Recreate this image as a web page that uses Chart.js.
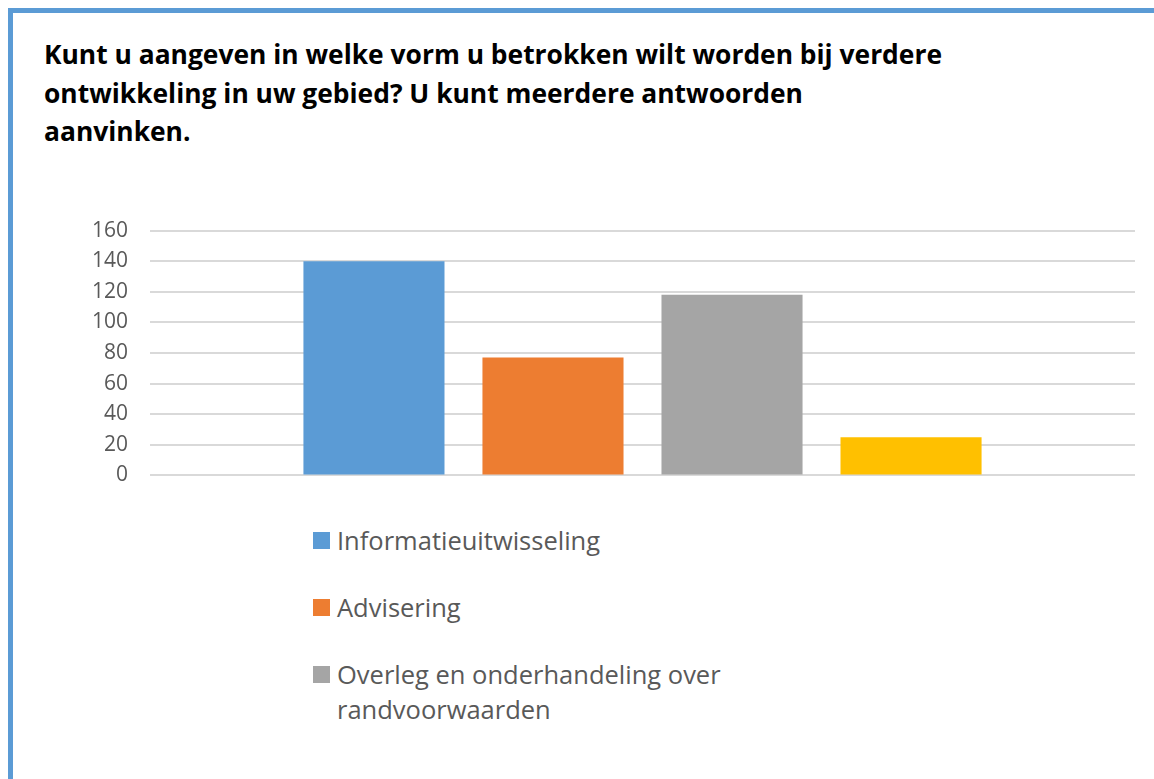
<!DOCTYPE html>
<html>
<head>
<meta charset="utf-8">
<script src="https://cdn.jsdelivr.net/npm/chart.js@4"></script>
<style>
  html, body { margin: 0; padding: 0; }
  body { width: 1154px; height: 779px; overflow: hidden; position: relative; background: #fff; font-family: 'Open Sans', sans-serif; }
  #frame { position: absolute; left: 8px; top: 8px; width: 1200px; height: 900px; border-left: 5px solid #5b9bd5; border-top: 5px solid #5b9bd5; }
  #title { position: absolute; left: 44px; top: 35px; font-weight: bold; font-size: 26.4px; line-height: 38.5px; color: #000; white-space: nowrap; }
  #chart-box { position: absolute; left: 60px; top: 196px; width: 1085px; height: 314px; }
  #legend { position: absolute; left: 313px; top: 523px; height: 222px; overflow: hidden; color: #595959; font-size: 25.5px; line-height: 35px; }
  .legend-item { display: flex; align-items: flex-start; margin-bottom: 32px; }
  .legend-swatch { width: 17px; height: 17px; margin-top: 9px; margin-right: 7px; flex: none; }
</style>
</head>
<body>
<div id="frame"></div>
<div id="title">Kunt u aangeven in welke vorm u betrokken wilt worden bij verdere<br>ontwikkeling in uw gebied? U kunt meerdere antwoorden<br>aanvinken.</div>
<div id="chart-box"><canvas id="vorm-chart"></canvas></div>
<div id="legend"></div>
<script>
const categories = [''];
const seriesNames = ['Informatieuitwisseling', 'Advisering', 'Overleg en onderhandeling over randvoorwaarden', 'Meebeslissen'];
const seriesValues = [140, 77, 118, 25];
const seriesColors = ['#5b9bd5', '#ed7d31', '#a5a5a5', '#ffc000'];
const yTicks = [0, 20, 40, 60, 80, 100, 120, 140, 160];

const datasets = seriesNames.map((name, i) => ({
    label: name,
    data: [seriesValues[i]],
    backgroundColor: seriesColors[i],
    borderWidth: 0,
    categoryPercentage: 0.727,
    barPercentage: 0.788
}));

const ctx = document.getElementById('vorm-chart');
new Chart(ctx, {
    type: 'bar',
    data: { labels: categories, datasets: datasets },
    options: {
        responsive: true,
        maintainAspectRatio: false,
        animation: false,
        layout: { padding: { top: 15, bottom: 15, right: 10, left: 0 } },
        plugins: {
            legend: { display: false },
            tooltip: { enabled: false }
        },
        scales: {
            x: { display: false },
            y: {
                min: yTicks[0],
                max: yTicks[yTicks.length - 1],
                border: { display: false },
                grid: { color: '#d9d9d9', lineWidth: 2, drawTicks: false },
                ticks: {
                    stepSize: yTicks[1] - yTicks[0],
                    padding: 22,
                    color: '#595959',
                    font: { family: 'Open Sans', size: 21 }
                },
                afterFit: (scale) => { scale.width = 90; }
            }
        }
    }
});

// legend under the chart, one item per line; the box is clipped like the original
const legendEl = document.getElementById('legend');
const legendLines = [['Informatieuitwisseling'], ['Advisering'], ['Overleg en onderhandeling over', 'randvoorwaarden'], ['Meebeslissen']];
let html = '';
seriesNames.forEach((name, i) => {
    html += `<div class="legend-item"><div class="legend-swatch" style="background:${seriesColors[i]}"></div><div>${legendLines[i].join('<br>')}</div></div>`;
});
legendEl.innerHTML = html;
</script>
</body>
</html>
